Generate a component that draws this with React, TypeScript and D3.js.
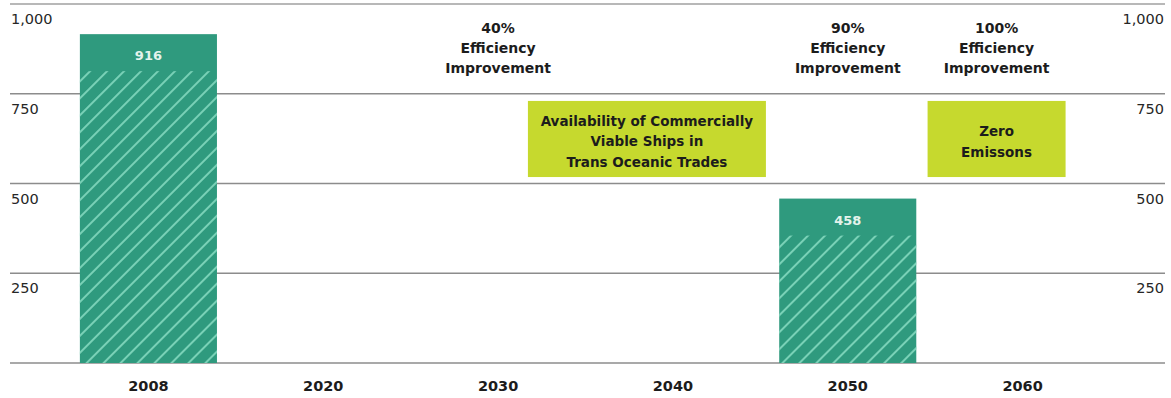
import React from "react";
import * as d3 from "d3";

// ---- data ----
const categories: string[] = ["2008", "2020", "2030", "2040", "2050", "2060"];
const values: (number | null)[] = [916, null, null, null, 458, null];
const gridValues: number[] = [0, 250, 500, 750, 1000];
const tickValues: number[] = [250, 500, 750, 1000];

const noteCategories: string[] = ["2030", "2050", "2060"];
const noteLines: string[][] = [
  ["40%", "Efficiency", "Improvement"],
  ["90%", "Efficiency", "Improvement"],
  ["100%", "Efficiency", "Improvement"],
];

const boxCategories: string[] = ["2040", "2060"];
const boxLines: string[][] = [
  ["Availability of Commercially", "Viable Ships in", "Trans Oceanic Trades"],
  ["Zero", "Emissons"],
];
const boxRangeLow = 518;
const boxRangeHigh = 730;

// ---- layout / style ----
const W = 1171;
const H = 398;
const FONT = "'DejaVu Sans', sans-serif";
const BAR = "#2f9a7e";
const HATCH = "#86dbc1";
const BOX = "#c6d92e";
const GRID = "#8c8c8c";
const TEXT = "#1c1c1c";
const noteOffsets = [0, 0, -26];
const boxOffsets = [-26, -26];
const boxWidths = [238, 138];
const solidBand = 37;

export default function App() {
  const x = d3
    .scaleBand<string>()
    .domain(categories)
    .range([61, 1110])
    .paddingInner(0.216)
    .paddingOuter(0.108);
  const y = d3.scaleLinear().domain([0, 1000]).range([363, 4]);
  const bw = x.bandwidth();
  const cx = (c: string) => (x(c) as number) + bw / 2;

  return (
    <svg
      width={W}
      height={H}
      style={{ position: "absolute", left: 0, top: 0, background: "#fff" }}
      fontFamily={FONT}
    >
      <defs>
        <pattern
          id="hatch"
          patternUnits="userSpaceOnUse"
          width={12}
          height={12}
          patternTransform="rotate(45)"
        >
          <line x1={6} y1={0} x2={6} y2={12} stroke={HATCH} strokeWidth={1.7} />
        </pattern>
      </defs>
      <rect x={0} y={0} width={W} height={H} fill="#fff" />

      {/* gridlines */}
      {gridValues.map((v) => (
        <line
          key={"g" + v}
          x1={10}
          x2={1165}
          y1={y(v)}
          y2={y(v)}
          stroke={v === 1000 ? "#a0a0a0" : GRID}
          strokeWidth={1.6}
        />
      ))}

      {/* tick labels */}
      {tickValues.map((v) => (
        <g key={"t" + v} fontSize={14.5} fill="#262626">
          <text x={11} y={y(v) + 20} textAnchor="start">
            {d3.format(",")(v)}
          </text>
          <text x={1164} y={y(v) + 20} textAnchor="end">
            {d3.format(",")(v)}
          </text>
        </g>
      ))}

      {/* bars */}
      {categories.map((c, i) => {
        const v = values[i];
        if (v == null) return null;
        const top = y(v);
        const bottom = y(0);
        return (
          <g key={"b" + c}>
            <rect x={x(c)} y={top} width={bw} height={bottom - top} fill={BAR} />
            <rect
              x={x(c)}
              y={top + solidBand}
              width={bw}
              height={bottom - top - solidBand}
              fill="url(#hatch)"
            />
            <text
              x={cx(c)}
              y={top + 26}
              textAnchor="middle"
              fontSize={13}
              fontWeight="bold"
              fill="#e4f3ec"
            >
              {v}
            </text>
          </g>
        );
      })}

      {/* top notes */}
      {noteCategories.map((c, i) => (
        <text
          key={"n" + c}
          textAnchor="middle"
          fontSize={14}
          fontWeight="bold"
          fill={TEXT}
        >
          {noteLines[i].map((l, j) => (
            <tspan key={j} x={cx(c) + noteOffsets[i]} y={y(1000) + 29 + j * 20}>
              {l}
            </tspan>
          ))}
        </text>
      ))}

      {/* green boxes */}
      {boxCategories.map((c, i) => {
        const centerX = cx(c) + boxOffsets[i];
        const top = y(boxRangeHigh);
        const bottom = y(boxRangeLow);
        const midY = (top + bottom) / 2;
        const n = boxLines[i].length;
        return (
          <g key={"bx" + c}>
            <rect
              x={centerX - boxWidths[i] / 2}
              y={top}
              width={boxWidths[i]}
              height={bottom - top}
              fill={BOX}
            />
            <text textAnchor="middle" fontSize={13.5} fontWeight="bold" fill={TEXT}>
              {boxLines[i].map((l, j) => (
                <tspan
                  key={j}
                  x={centerX}
                  y={midY - ((n - 1) / 2) * 20.5 + 7.5 + j * 20.5}
                >
                  {l}
                </tspan>
              ))}
            </text>
          </g>
        );
      })}

      {/* x labels */}
      {categories.map((c) => (
        <text
          key={"x" + c}
          x={cx(c)}
          y={391}
          textAnchor="middle"
          fontSize={14.5}
          fontWeight="bold"
          fill={TEXT}
        >
          {c}
        </text>
      ))}
    </svg>
  );
}
